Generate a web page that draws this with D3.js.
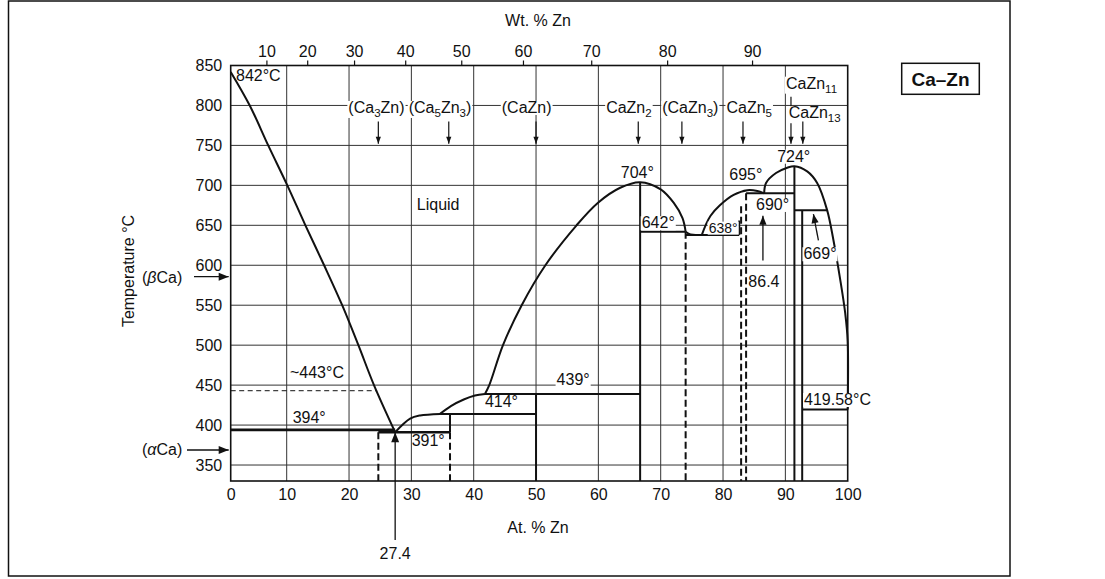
<!DOCTYPE html>
<html><head><meta charset="utf-8">
<script src="https://cdn.jsdelivr.net/npm/d3@7/dist/d3.min.js"></script>
<style>
body{margin:0;background:#fff}
text{font-family:"Liberation Sans",Arial,Helvetica,sans-serif;fill:#111}
</style></head>
<body><svg id="c" width="1105" height="579"></svg>
<script>
// ---------------- data ----------------
const atTicks   = [0,10,20,30,40,50,60,70,80,90,100];
const tempTicks = [350,400,450,500,550,600,650,700,750,800,850];
const wtTicks   = [10,20,30,40,50,60,70,80,90];
const gridAt    = [10,20,30,40,50,60,70,80,90];
const gridT     = [350,400,450,500,550,600,650,700,750,800];
const massZn = 65.38, massCa = 40.078;

// liquidus segments [at.% Zn, °C]
const liquidus1 = [[0,842],[3.4,800],[6.7,750],[10.1,700],[13.0,650],[16.0,600],[18.9,550],[21.5,500],[24.0,450],[27.4,391]];
const liquidus2 = [[27.4,391],[29.8,408],[31.4,412],[34.6,414]];
const liquidus3 = [[34.6,414],[36.4,424],[38.4,432],[40.2,437],[41.8,439]];
const liquidus4 = [[41.8,439],[42.5,450],[44.7,500],[47.7,550],[51.5,600],[56.5,650],[59.9,678],[63.5,697],[66.7,704],[70,695],[72.1,678],[73.5,659],[74,642]];
const liquidus5 = [[74,642],[74.8,638.6],[75.6,638],[76.6,638]];
const liquidus6 = [[76.6,638],[77.2,650],[78,662],[79.5,675],[81.7,688],[83.9,694],[85.5,693],[86.6,690]];
const liquidus7 = [[86.6,690],[86.9,703],[88.5,715.5],[90.3,722],[91.45,724],[93.5,717.5],[95.1,703],[96.7,669],[97.7,632],[98.8,582],[99.6,540],[100,505],[100,419.58]];

// invariant isotherms
const isoT    = [394, 391, 414, 439, 642, 638, 690, 669, 419.58];
const isoFrom = [0,   24.7,34.6,41.8,66.7,74,  83.7,91.45,92.7];
const isoTo   = [27.4,36.2,50,  66.7,74,  82.6,91.45,96.7,100];

// solid phase boundaries (vertical)
const solidX      = [36.2,50, 66.7,82.6,91.45,92.7];
const solidTop    = [414, 439,704, 656, 724,  669];
const solidBottom = [391, 330,330, 638, 330,  330];

// dashed phase boundaries (vertical)
const dashX      = [24.7,36.2,74, 82.9,83.7];
const dashTop    = [391, 391, 642,674, 690];
const dashBottom = [330, 330, 330,330, 330];

// approximate alpha/beta Ca transformation (dashed)
const transT = 443, transFrom = 0, transTo = 24.5;

// compound labels on top
const compNames  = [["(Ca",{s:"3"},"Zn)"],["(Ca",{s:"5"},"Zn",{s:"3"},")"],["(CaZn)"],["CaZn",{s:"2"}],["(CaZn",{s:"3"},")"],["CaZn",{s:"5"}],["CaZn",{s:"11"}],["CaZn",{s:"13"}]];
const compLabelX = [24.4,34.6,48.5,64.9,74.75,84.2,94.2,94.7];
const compLabelT = [790.6,790.6,790.6,790.6,790.6,790.6,821,784];
const compArrowX = [24.7,36.0,50,66.4,73.4,83.2,90.9,92.8];
const compArrowFrom = [780,780,780,780,780,780,811,780];
const compArrowTo = 752;

// point annotations
const noteText = ["842°C","Liquid","704°","642°","638°","695°","724°","690°","669°","86.4","419.58°C","439°","414°","391°","394°","~443°C"];
const noteX    = [0.95, 34.3, 66.25,66.95,77.7, 83.65,91.34,85.3, 92.9, 84.06,93,    53.3, 41.8, 30.05,10.96,10.52];
const noteT    = [830.6,669.2,708.8,646.3,640.8,706.7,729.6,669.2,607.5,573.2,425.1, 450.2,422.2,373.8,402.2,458.5];
const noteAnchor = ["start","middle","middle","start","start","middle","middle","start","start","start","start","start","start","start","start","start"];
const noteSize = [16,16,16,16,14,16,16,16,16,16,16,16,16,16,16,16];
const noteBg   = [0,0,1,1,1,1,1,1,1,1,1,1,0,0,0,0];

// pointer arrows [x1,T1] -> [x2,T2]
const ptrFrom = [[86.4,606],[95.3,631]];
const ptrTo   = [[86.4,662],[94.5,664]];
const eutecticX = 27.4, eutecticT = 391;

// ---------------- drawing ----------------
const svg = d3.select("#c");
const x = d3.scaleLinear().domain([0,10,100]).range([230.7,286.7,847.7]);
const y = d3.scaleLinear().domain([330,850]).range([481,65.5]);
const pL = x(0), pR = x(100), pT = y(850), pB = y(330);

const wtToAt = w => 100*(w/massZn)/((w/massZn)+((100-w)/massCa));

// outer frame
svg.append("rect").attr("x",8.5).attr("y",1).attr("width",1001.5).attr("height",575)
  .attr("fill","none").attr("stroke","#111").attr("stroke-width",1.5);

const g = svg.append("g");

// grid
g.selectAll(".gv").data(gridAt).join("line")
  .attr("x1",d=>x(d)).attr("x2",d=>x(d)).attr("y1",pT).attr("y2",pB)
  .attr("stroke","#333").attr("stroke-width",1);
g.selectAll(".gh").data(gridT).join("line")
  .attr("x1",pL).attr("x2",pR).attr("y1",d=>y(d)).attr("y2",d=>y(d))
  .attr("stroke","#333").attr("stroke-width",1);

// border
g.append("rect").attr("x",pL).attr("y",pT).attr("width",pR-pL).attr("height",pB-pT)
  .attr("fill","none").attr("stroke","#111").attr("stroke-width",1.6);

// axes
const fs = 16;
const ax1 = g.append("g").attr("transform",`translate(0,${pB})`)
  .call(d3.axisBottom(x).tickValues(atTicks).tickSize(0).tickPadding(7.5).tickFormat(d3.format("d")));
const ax2 = g.append("g").attr("transform",`translate(${pL},0)`)
  .call(d3.axisLeft(y).tickValues(tempTicks).tickSize(0).tickPadding(8.5));
const ax3 = g.append("g").attr("transform",`translate(0,${pT})`)
  .call(d3.axisTop(x).tickValues(wtTicks.map(wtToAt)).tickSize(5).tickPadding(4).tickFormat((d,i)=>wtTicks[i]));
[ax1,ax2,ax3].forEach(a=>{
  a.select(".domain").remove();
  a.selectAll("text").attr("font-size",fs).attr("font-family","Liberation Sans, Arial, sans-serif").attr("fill","#111");
  a.selectAll("line").attr("stroke","#111").attr("stroke-width",1.2);
});

// axis titles
g.append("text").attr("x",538).attr("y",26).attr("text-anchor","middle").attr("font-size",16).text("Wt. % Zn");
g.append("text").attr("x",538).attr("y",533).attr("text-anchor","middle").attr("font-size",16).text("At. % Zn");
g.append("text").attr("transform","translate(134,271) rotate(-90)").attr("text-anchor","middle").attr("font-size",16).text("Temperature °C");

// helpers
function arrow(x1,y1,x2,y2,len=8,hw=3.2,sw=1.3){
  g.append("line").attr("x1",x1).attr("y1",y1).attr("x2",x2).attr("y2",y2)
    .attr("stroke","#111").attr("stroke-width",sw);
  const a = Math.atan2(y2-y1,x2-x1);
  const bx = x2-len*Math.cos(a), by = y2-len*Math.sin(a);
  const px = -Math.sin(a)*hw, py = Math.cos(a)*hw;
  g.append("path").attr("d",`M${x2},${y2}L${bx+px},${by+py}L${bx-px},${by-py}Z`).attr("fill","#111");
}
function rich(parts,px,py,{size=16,anchor="start",bg=false,weight="normal"}={}){
  const t = g.append("text").attr("x",px).attr("y",py).attr("font-size",size)
    .attr("text-anchor",anchor).attr("font-weight",weight);
  let shift = 0;
  parts.forEach(p=>{
    if (typeof p === "string"){
      const s = t.append("tspan").text(p);
      if (shift){ s.attr("dy",-shift); shift=0; }
    } else if (p.s){
      t.append("tspan").attr("dy",4-shift).attr("font-size",size*0.72).text(p.s);
      shift = 4;
    } else if (p.i){
      const s = t.append("tspan").attr("font-style","italic").text(p.i);
      if (shift){ s.attr("dy",-shift); shift=0; }
    }
  });
  if (bg){
    const b = t.node().getBBox();
    g.insert("rect",()=>t.node()).attr("x",b.x-1).attr("y",b.y+2).attr("width",b.width+2).attr("height",b.height-3).attr("fill","#fff");
  }
  return t;
}

// liquidus
const lineGen = d3.line().x(d=>x(d[0])).y(d=>y(d[1])).curve(d3.curveCatmullRom.alpha(0.5));
[liquidus1,liquidus2,liquidus3,liquidus4,liquidus6,liquidus7].forEach(seg=>{
  g.append("path").attr("d",lineGen(seg)).attr("fill","none").attr("stroke","#111").attr("stroke-width",2);
});
g.append("path").attr("d",d3.line().x(d=>x(d[0])).y(d=>y(d[1])).curve(d3.curveMonotoneX)(liquidus5))
  .attr("fill","none").attr("stroke","#111").attr("stroke-width",2);

// isotherms
isoT.forEach((t,i)=>{
  g.append("line").attr("x1",x(isoFrom[i])).attr("x2",x(isoTo[i])).attr("y1",y(t)).attr("y2",y(t))
    .attr("stroke","#111").attr("stroke-width",i<2?2.6:2);
});
// transformation dashed
g.append("line").attr("x1",x(transFrom)).attr("x2",x(transTo)).attr("y1",y(transT)).attr("y2",y(transT))
  .attr("stroke","#111").attr("stroke-width",1).attr("stroke-dasharray","5,3.5");

// verticals
solidX.forEach((v,i)=>{
  g.append("line").attr("x1",x(v)).attr("x2",x(v)).attr("y1",y(solidTop[i])).attr("y2",y(solidBottom[i]))
    .attr("stroke","#111").attr("stroke-width",2);
});
dashX.forEach((v,i)=>{
  g.append("line").attr("x1",x(v)).attr("x2",x(v)).attr("y1",y(dashTop[i])).attr("y2",y(dashBottom[i]))
    .attr("stroke","#111").attr("stroke-width",2).attr("stroke-dasharray","7,3.5");
});

// compound labels + arrows
compNames.forEach((n,i)=>{
  rich(n,x(compLabelX[i]),y(compLabelT[i]),{anchor:"middle",bg:true});
  arrow(x(compArrowX[i]),y(compArrowFrom[i]),x(compArrowX[i]),y(compArrowTo),7,2.6,1.2);
});

// annotations
noteText.forEach((t,i)=>{
  rich([t],x(noteX[i]),y(noteT[i]),{anchor:noteAnchor[i],size:noteSize[i],bg:!!noteBg[i]});
});

// pointer arrows
ptrFrom.forEach((p,i)=>{
  arrow(x(p[0]),y(p[1]),x(ptrTo[i][0]),y(ptrTo[i][1]),9,3.6,1.3);
});

// eutectic composition arrow (from below the axis)
arrow(x(eutecticX),pB+59,x(eutecticX),y(eutecticT),10,4,1.3);
g.append("text").attr("x",x(eutecticX)).attr("y",pB+78).attr("text-anchor","middle").attr("font-size",16).text(eutecticX);

// allotrope markers on the left
const betaT = 585.7, alphaT = 368.8;
rich(["(",{i:"β"},"Ca)"],142,y(betaT)+6.5,{});
arrow(194,y(betaT),pL-2,y(betaT),10,4,1.3);
rich(["(",{i:"α"},"Ca)"],142,y(alphaT)+5.5,{});
arrow(187,y(alphaT),pL-2,y(alphaT),10,4,1.3);

// system tag
svg.append("rect").attr("x",901.7).attr("y",63.3).attr("width",77.6).attr("height",31)
  .attr("fill","#fff").attr("stroke","#111").attr("stroke-width",1.5);
svg.append("text").attr("x",940.5).attr("y",86).attr("text-anchor","middle").attr("font-size",19)
  .attr("font-weight","bold").text("Ca–Zn");
</script></body></html>
